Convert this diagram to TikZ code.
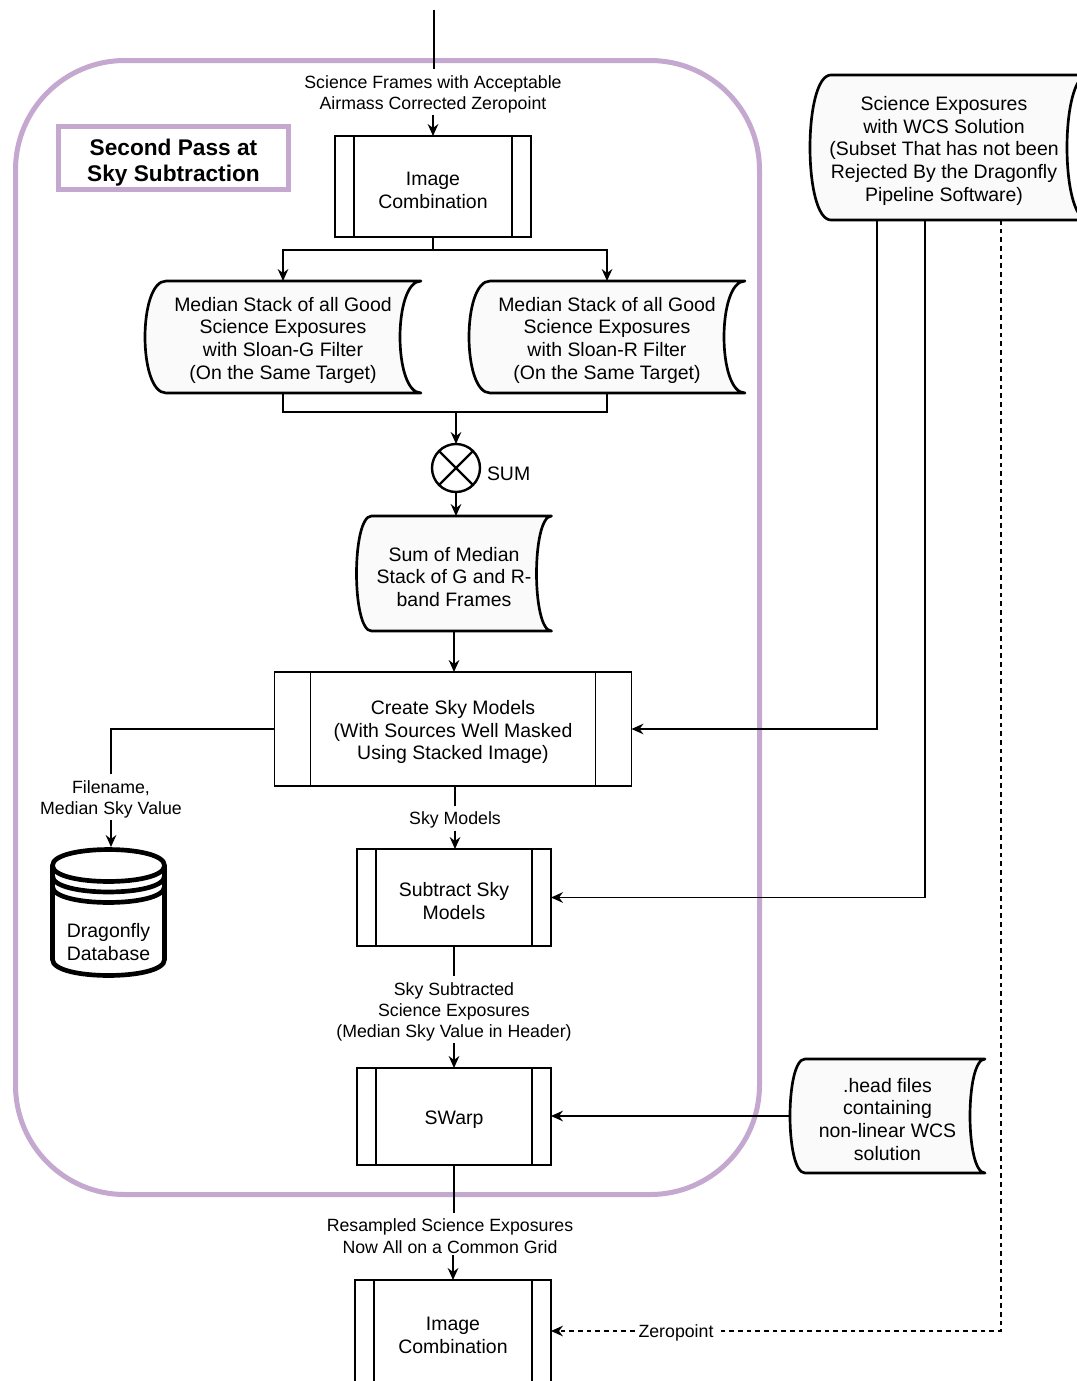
\documentclass[tikz,border=0pt]{standalone}
\usepackage{fontspec}
\setmainfont{Liberation Sans}
\usetikzlibrary{arrows.meta,calc}
\definecolor{lav}{RGB}{196,168,207}
\definecolor{sdfill}{RGB}{250,250,250}
\pgfdeclarelayer{back}
\pgfdeclarelayer{mid}
\pgfsetlayers{back,mid,main}
\newcommand\tstr{\rule{0pt}{15.5pt}}
\newcommand\lstr{\rule{0pt}{13pt}}
\newcommand\hstr{\rule{0pt}{19.7pt}}
\newcommand\procinner[2]{%
  \draw[line width=1.1pt] ($(#1.north west)+(#2,0)$) -- ($(#1.south west)+(#2,0)$);
  \draw[line width=1.1pt] ($(#1.north east)+(-#2,0)$) -- ($(#1.south east)+(-#2,0)$);}
% name, curve depth, extra extension of the right side
\newcommand\sdshape[3]{%
  \draw[line width=2pt, fill=sdfill, line join=round]
    ($(#1.north west)+(#2,0)$) -- ($(#1.north east)+(#3,0)$)
    .. controls ($(#1.north east)+(-4/3*#2+#3,0)$) and ($(#1.south east)+(-4/3*#2+#3,0)$) .. ($(#1.south east)+(#3,0)$)
    -- ($(#1.south west)+(#2,0)$)
    .. controls ($(#1.south west)+(-#2/3,0)$) and ($(#1.north west)+(-#2/3,0)$) .. cycle;}
\begin{document}
\begin{tikzpicture}[x=0.75pt,y=-0.75pt,
  every node/.style={inner sep=0pt, outer sep=0pt, align=center},
  txt/.style={font=\fontsize{14.6}{17}\selectfont},
  elab/.style={font=\fontsize{13.3}{15.9}\selectfont, inner sep=1.5pt},
  proc/.style={draw, line width=1.1pt, rectangle, txt},
  conn/.style={line width=1.1pt, -{Stealth[length=9pt,width=8pt,inset=3pt]}},
  plain/.style={line width=1.1pt},
  dsh/.style={dash pattern=on 3.5pt off 3pt},
]
\useasboundingbox (0,0) rectangle (1077,1381);

% background and container
\begin{pgfonlayer}{back}
\fill[white] (0,0) rectangle (1077,1381);
\draw[lav, line width=3.75pt, rounded corners=82pt] (15.5,60.5) rectangle (759.5,1194.5);
\end{pgfonlayer}

% title
\node[draw=lav, line width=3.75pt, fill=white, minimum width=172.5pt, minimum height=47.25pt,
  font=\fontsize{17}{19.5}\selectfont\bfseries] (title) at (173.5,158) {\hstr Second Pass at\\Sky Subtraction};

% nodes
\coordinate (topin) at (434,10);
\node[elab] (l1) at (433,92) {\lstr Science Frames with Acceptable\\Airmass Corrected Zeropoint};
\node[proc, minimum width=147pt, minimum height=75.75pt] (ic1) at (433,186.5) {\tstr Image\\Combination};
\node[txt, minimum width=207pt, minimum height=84pt] (G) at (283,337) {\tstr Median Stack of all Good\\Science Exposures\\with Sloan-G Filter\\(On the Same Target)};
\node[txt, minimum width=207pt, minimum height=84pt] (R) at (607,337) {\tstr Median Stack of all Good\\Science Exposures\\with Sloan-R Filter\\(On the Same Target)};
\node[draw, circle, line width=1.8pt, minimum size=36pt] (sum) at (456,468) {};
\node[txt, anchor=west] (sumlbl) at (487,470) {\tstr SUM};
\node[txt, minimum width=146.25pt, minimum height=86.25pt] (S) at (454,573.5) {\tstr Sum of Median\\Stack of G and R-\\band Frames};
\node[proc, minimum width=267.75pt, minimum height=85.5pt] (cr) at (453,729) {\tstr Create Sky Models\\(With Sources Well Masked\\Using Stacked Image)};
\node[elab] (fm) at (111,797) {\lstr Filename,\\Median Sky Value};
\coordinate (dbtop) at (108.5,847);
\node[elab] (skm) at (455,818) {\lstr Sky Models};
\node[proc, minimum width=145.5pt, minimum height=72.75pt] (sub) at (454,897.5) {\tstr Subtract Sky\\Models};
\node[txt, minimum width=201pt, minimum height=108.75pt] (SE) at (944,147.5) {\tstr Science Exposures\\with WCS Solution\\(Subset That has not been\\Rejected By the Dragonfly\\Pipeline Software)};
\node[elab] (ssl) at (454,1009.5) {\lstr Sky Subtracted\\Science Exposures\\(Median Sky Value in Header)};
\node[proc, minimum width=145.5pt, minimum height=72.75pt] (sw) at (454,1116.5) {\tstr SWarp};
\node[txt, minimum width=146.25pt, minimum height=85.5pt] (hd) at (887.5,1116) {\tstr .head files\\containing\\non-linear WCS\\solution};
\node[elab] (rl) at (450,1234) {\lstr Resampled Science Exposures\\Now All on a Common Grid};
\node[proc, minimum width=147pt, minimum height=78pt] (ic2) at (453,1332) {\tstr Image\\Combination};
\node[elab, inner xsep=3pt] (zp) at (676,1331) {\lstr Zeropoint};

% process inner lines
\procinner{ic1}{19}
\procinner{cr}{36}
\procinner{sub}{19}
\procinner{sw}{19}
\procinner{ic2}{19}

% stored data shapes
\begin{pgfonlayer}{mid}
\sdshape{G}{21}{0}
\sdshape{R}{21}{0}
\sdshape{S}{15}{0}
\sdshape{SE}{21}{10}
\sdshape{hd}{15}{0}
\end{pgfonlayer}

% sum junction cross
\draw[line width=1.8pt] (sum.north west) -- (sum.south east);
\draw[line width=1.8pt] (sum.north east) -- (sum.south west);

% database cylinder
\begin{scope}[line width=3.5pt]
\draw[fill=white] (52.5,865.5) -- (52.5,959.5) .. controls (52.5,980.8) and (164.5,980.8) .. (164.5,959.5)
  -- (164.5,865.5) .. controls (164.5,844.2) and (52.5,844.2) .. cycle;
\draw (52.5,865.5) .. controls (52.5,886.8) and (164.5,886.8) .. (164.5,865.5);
\draw (52.5,876) .. controls (52.5,897.3) and (164.5,897.3) .. (164.5,876);
\draw (52.5,886.5) .. controls (52.5,907.8) and (164.5,907.8) .. (164.5,886.5);
\end{scope}
\node[txt] (db) at (108.5,939) {\tstr Dragonfly\\Database};

% connectors
\draw[plain] (topin) -- (topin |- l1.north);
\draw[conn] (l1.south -| ic1.north) -- (ic1.north);
\draw[plain] (ic1.south) -- ++(0,13) coordinate (br);
\draw[conn] (br) -| (G.north);
\draw[conn] (br) -| (R.north);
\draw[plain] (G.south) -- ++(0,19) -| (R.south);
\draw[conn] (sum.north |- 0,412) -- (sum.north);
\draw[conn] (sum.south) -- (sum.south |- S.north);
\draw[conn] (S.south) -- (S.south |- cr.north);
\draw[plain] (cr.west) -| (fm.north);
\draw[conn] (fm.south) -- (fm.south |- dbtop);
\draw[plain] (skm.north |- cr.south) -- (skm.north);
\draw[conn] (skm.south) -- (skm.south |- sub.north);
\coordinate (se1) at (877,220);
\coordinate (se2) at (925,220);
\coordinate (se3) at (1001,220);
\draw[conn] (se1) |- (cr.east);
\draw[conn] (se2) |- (sub.east);
\draw[plain, dsh] (se3) |- (zp.east);
\draw[conn, dsh] (zp.west) -- (zp.west -| ic2.east);
\draw[plain] (ssl.north |- sub.south) -- (ssl.north);
\draw[conn] (ssl.south) -- (ssl.south |- sw.north);
\draw[conn] (hd.west) -- (hd.west -| sw.east);
\draw[plain] (sw.south) -- (sw.south |- rl.north);
\draw[conn] (ic2.north |- rl.south) -- (ic2.north);
\end{tikzpicture}
\end{document}
